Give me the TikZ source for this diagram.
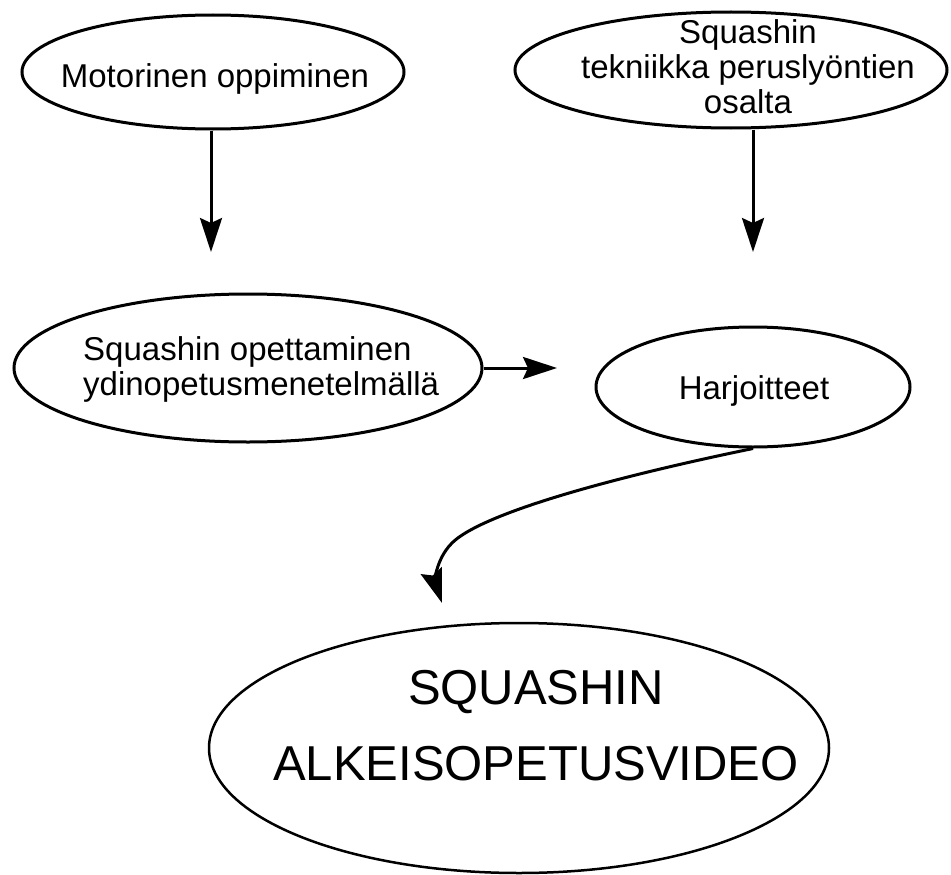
\documentclass[tikz,border=0pt]{standalone}
\usepackage{fontspec}
\setmainfont{Liberation Sans}
\usetikzlibrary{shapes.geometric,arrows.meta}
\begin{document}
\begin{tikzpicture}[x=1pt,y=-1pt,
  ell/.style={ellipse,draw,line width=3pt,inner sep=0pt},
  lbl/.style={font=\fontsize{33}{35}\selectfont,inner sep=0pt},
  arr/.style={line width=3pt,-{Stealth[length=34pt,width=22pt,inset=5pt]}}]
\useasboundingbox (0,0) rectangle (951,875);
% ellipses
\node[ell,minimum width=382pt,minimum height=114pt] (e1) at (213,72) {};
\node[ell,minimum width=432pt,minimum height=116pt] (e2) at (731,70) {};
\node[ell,minimum width=468pt,minimum height=148pt] (e3) at (248,368) {};
\node[ell,minimum width=314pt,minimum height=120pt] (e4) at (753,387) {};
\node[ell,line width=2.5pt,minimum width=620pt,minimum height=250pt] (e5) at (519,748) {};
% texts
\node[lbl,anchor=base] (t1) at (215,88) {Motorinen oppiminen};
\node[lbl,align=center] (t2) at (748,67) {Squashin\\tekniikka peruslyöntien\\osalta};
\node[lbl,align=left,anchor=north west] (t3) at (83,336) {Squashin opettaminen\\ydinopetusmenetelmällä};
\node[lbl,anchor=base] (t4) at (754,399) {Harjoitteet};
\node[inner sep=0pt,align=center,font=\fontsize{49}{76}\selectfont] (t5) at (536,726) {SQUASHIN\\ALKEISOPETUSVIDEO};
% arrow ends
\coordinate (a1) at (211,252);
\coordinate (a2) at (753,252);
\coordinate (a3) at (557,368);
\coordinate (a4) at (442,603);
\draw[arr] (e1.south -| a1) -- (a1);
\draw[arr] (e2.south -| a2) -- (a2);
\draw[arr] (e3) -- (a3);
\draw[arr] (e4.south) .. controls (600,480) and (480,515) .. (452,543) .. controls (434,561) and (436,585) .. (a4);
\end{tikzpicture}
\end{document}
